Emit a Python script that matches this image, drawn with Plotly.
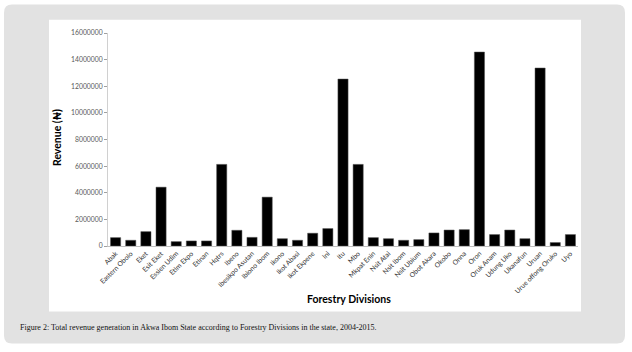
import plotly.graph_objects as go

divisions = ["Abak", "Eastern Obolo", "Eket", "Esit Eket", "Essien Udim", "Etim Ekpo", "Etinan",
             "Hqtrs", "Ibeno", "Ibesikpo Asutan", "Ibiono Ibom", "Ikono", "Ikot Abasi", "Ikot Ekpene",
             "Ini", "Itu", "Mbo", "Mkpat Enin", "Nsit Atai", "Nsit Ibom", "Nsit Ubium", "Obot Akara",
             "Okobo", "Onna", "Oron", "Oruk Anam", "Udung Uko", "Ukanafun", "Uruan",
             "Urue offong Oruko", "Uyo"]
revenue = [630000, 430000, 1080000, 4420000, 330000, 380000, 380000,
           6130000, 1180000, 650000, 3670000, 550000, 430000, 960000,
           1310000, 12540000, 6130000, 630000, 550000, 430000, 480000, 980000,
           1200000, 1230000, 14570000, 860000, 1200000, 550000, 13370000,
           260000, 860000]
y_ticks = [0, 2000000, 4000000, 6000000, 8000000, 10000000, 12000000, 14000000, 16000000]

W, H = 632, 352
L, R = 108, 578
T, B = 33.3, 245.7


def px(x):
    return (x - L) / (R - L)


def py(y):
    return (B - y) / (B - T)


def rounded(x0, y0, x1, y1, r):
    return (f"M {px(x0 + r)} {py(y0)} L {px(x1 - r)} {py(y0)} "
            f"Q {px(x1)} {py(y0)} {px(x1)} {py(y0 + r)} L {px(x1)} {py(y1 - r)} "
            f"Q {px(x1)} {py(y1)} {px(x1 - r)} {py(y1)} L {px(x0 + r)} {py(y1)} "
            f"Q {px(x0)} {py(y1)} {px(x0)} {py(y1 - r)} L {px(x0)} {py(y0 + r)} "
            f"Q {px(x0)} {py(y0)} {px(x0 + r)} {py(y0)} Z")


fig = go.Figure(go.Bar(x=divisions, y=revenue, marker=dict(color="#000000", line=dict(color="#555555", width=0.5))))

fig.update_layout(
    width=W, height=H,
    margin=dict(l=L, r=W - R, t=T, b=H - B),
    paper_bgcolor="white",
    plot_bgcolor="rgba(0,0,0,0)",
    bargap=0.33,
    showlegend=False,
    font=dict(family="Lato, Arial", color="#595959"),
    shapes=[
        dict(type="path", xref="paper", yref="paper", path=rounded(4, 5, 625, 343, 8),
             fillcolor="#e2e2e2", line=dict(width=0), layer="below"),
        dict(type="rect", xref="paper", yref="paper", x0=px(49), x1=px(581), y0=py(311), y1=py(20),
             fillcolor="white", line=dict(width=0), layer="below"),
    ],
    annotations=[
        dict(text="<b>Revenue (₦)</b>", xref="paper", yref="paper", x=px(57), y=py(138),
             textangle=-90, showarrow=False, font=dict(size=10.5, color="#000000", family="Lato, Arial"),
             xanchor="center", yanchor="middle"),
        dict(text="<b>Forestry Divisions</b>", xref="paper", yref="paper", x=px(349), y=py(299),
             showarrow=False, font=dict(size=10.5, color="#000000", family="Lato, Arial"),
             xanchor="center", yanchor="middle"),
        dict(text="Figure 2: Total revenue generation in Akwa Ibom State according to Forestry Divisions in the state, 2004-2015.",
             xref="paper", yref="paper", x=px(18), y=py(327), showarrow=False,
             font=dict(size=8, color="#111111", family="Liberation Serif, serif"),
             xanchor="left", yanchor="middle"),
    ],
)

fig.update_yaxes(range=[0, 16000000], tickvals=y_ticks, ticktext=[str(v) for v in y_ticks],
                 showgrid=False, zeroline=False, showline=True, linecolor="#d0d0d0", linewidth=1,
                 ticks="outside", ticklen=3, tickcolor="#a0a0a0",
                 tickfont=dict(size=6.8, color="#595959"))
fig.update_xaxes(showgrid=False, showline=True, linecolor="#bfbfbf", linewidth=1,
                 tickangle=-45, tickfont=dict(size=6.8, color="#333333"), ticks="")

fig.write_html("out.html")
